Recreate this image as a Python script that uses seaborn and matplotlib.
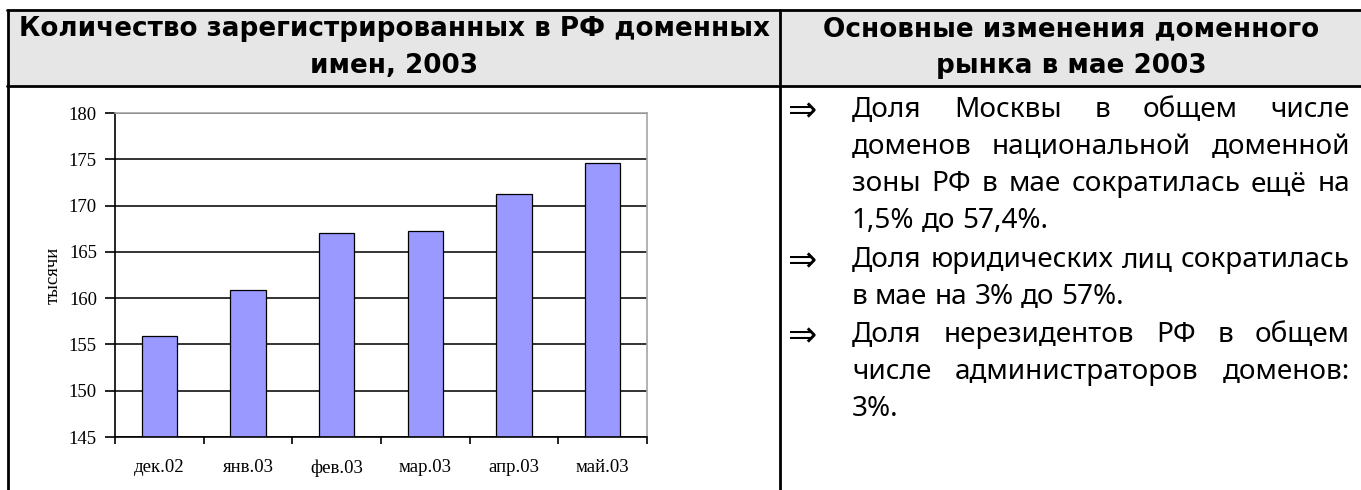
import matplotlib
matplotlib.use('Agg')

import matplotlib.pyplot as plt
from matplotlib.lines import Line2D
from matplotlib.patches import Rectangle
import seaborn as sns
import pandas as pd
import numpy as np

# chart data
months = ['дек.02', 'янв.03', 'фев.03', 'мар.03', 'апр.03', 'май.03']
domains = [155.95, 160.85, 167.05, 167.3, 171.25, 174.6]
y_ticks = [145, 150, 155, 160, 165, 170, 175, 180]
y_label = 'тысячи'

# table texts
left_title = ['Количество зарегистрированных в РФ доменных', 'имен, 2003']
right_title = ['Основные изменения доменного', 'рынка в мае 2003']
notes = [
    ['Доля Москвы в общем числе',
     'доменов национальной доменной',
     'зоны РФ в мае  сократилась ещё на',
     '1,5% до 57,4%.'],
    ['Доля юридических лиц сократилась',
     'в мае на 3% до 57%.'],
    ['Доля нерезидентов РФ в общем',
     'числе администраторов доменов:',
     '3%.'],
]

W, H = 1361, 490


def fx(px):
    return px / W


def fy(py):
    return 1 - py / H


sns.set_style('white')
plt.rcParams['font.family'] = ['Noto Sans', 'DejaVu Sans']
plt.rcParams['text.color'] = 'black'
plt.rcParams['axes.labelcolor'] = 'black'
plt.rcParams['xtick.color'] = 'black'
plt.rcParams['ytick.color'] = 'black'

fig = plt.figure(figsize=(W / 100, H / 100), dpi=100)
fig.patch.set_facecolor('white')
renderer = fig.canvas.get_renderer()

# table frame
fig.patches.append(Rectangle((fx(8), fy(86)), fx(W) - fx(8), fy(10) - fy(86),
                             transform=fig.transFigure, facecolor='#e6e6e6',
                             edgecolor='none', zorder=0))
frame = dict(color='black', lw=2, transform=fig.transFigure, zorder=5)
fig.lines.append(Line2D([fx(7), 1], [fy(10), fy(10)], **frame))
fig.lines.append(Line2D([fx(7), 1], [fy(86), fy(86)], **frame))
fig.lines.append(Line2D([fx(8), fx(8)], [fy(10), 0], **frame))
fig.lines.append(Line2D([fx(780), fx(780)], [fy(10), 0], **frame))


def text_width(s, size, **kw):
    t = fig.text(0, 0, s, fontsize=size, **kw)
    w = t.get_window_extent(renderer).width
    t.remove()
    return w


# headers
bold = dict(fontweight='bold', family='DejaVu Sans')
head_size = 10 * 750 / text_width(left_title[0], 10, **bold)
for line, y in zip(left_title, [29, 66]):
    fig.text(fx(394), fy(y), line, fontsize=head_size, ha='center',
             va='center', **bold)
for line, y in zip(right_title, [29, 66]):
    fig.text(fx(1071), fy(y), line, fontsize=head_size, ha='center',
             va='center', **bold)

# bullet text, justified
x0, x1 = 852, 1350
full_lines = [ln for para in notes for ln in para[:-1]]
widest = max(text_width(' '.join(ln.split()), 10) for ln in full_lines)
body_size = 10 * 492 / widest
space = text_width('x x', body_size) - text_width('xx', body_size)

baselines = [117, 154, 191, 228, 267, 304, 342, 379, 416]
i = 0
for para in notes:
    fig.text(fx(803), fy(baselines[i] - 6), '⇒', fontsize=body_size * 1.25,
             family='DejaVu Sans', ha='center', va='center')
    for j, line in enumerate(para):
        words = line.split()
        texts = [fig.text(0, fy(baselines[i]), w, fontsize=body_size,
                          ha='left', va='baseline') for w in words]
        widths = [t.get_window_extent(renderer).width for t in texts]
        if j < len(para) - 1 and len(words) > 1:
            gap = (x1 - x0 - sum(widths)) / (len(words) - 1)
        else:
            gap = space
        x = x0
        for t, w in zip(texts, widths):
            t.set_x(fx(x))
            x += w + gap
        i += 1

# bar chart
ax = fig.add_axes([fx(115), fy(437), fx(647) - fx(115), fy(113) - fy(437)])
df = pd.DataFrame({'month': months, 'domains': domains})
sns.barplot(data=df, x='month', y='domains', color='#9999ff', saturation=1,
            width=0.4, edgecolor='black', linewidth=0.9, ax=ax)
ax.set_xlim(-0.5, len(months) - 0.5)
ax.set_ylim(y_ticks[0], y_ticks[-1])
ax.set_yticks(y_ticks)
ax.set_axisbelow(True)
ax.yaxis.grid(True, color='#333333', lw=1.4)
for tick in ax.yaxis.get_major_ticks():
    if tick.get_loc() in (y_ticks[0], y_ticks[-1]):
        tick.gridline.set_visible(False)

serif = 'Liberation Serif'
ax.set_xticks(range(len(months)))
ax.set_xticklabels(months, fontfamily=serif, fontsize=13.5)
ax.set_yticklabels([str(v) for v in y_ticks], fontfamily=serif, fontsize=13.5)
ax.set_xticks(np.arange(-0.5, len(months), 1), minor=True)
ax.tick_params(axis='x', which='major', length=0, pad=16)
ax.tick_params(axis='x', which='minor', length=5, width=1.2, color='black',
               direction='out', bottom=True)
ax.tick_params(axis='y', length=7, width=1.2, color='black', direction='out',
               left=True, pad=6)
ax.set_xlabel('')
ax.set_ylabel(y_label, fontfamily=serif, fontsize=13.5)
ax.yaxis.set_label_coords((53 - 115) / 532, 0.5)
ax.yaxis.label.set_va('center')

for side in ('left', 'bottom'):
    ax.spines[side].set_color('black')
    ax.spines[side].set_linewidth(1.2)
for side in ('top', 'right'):
    ax.spines[side].set_color('#a6a6a6')
    ax.spines[side].set_linewidth(1.2)

fig.savefig('out.png', dpi=100)
